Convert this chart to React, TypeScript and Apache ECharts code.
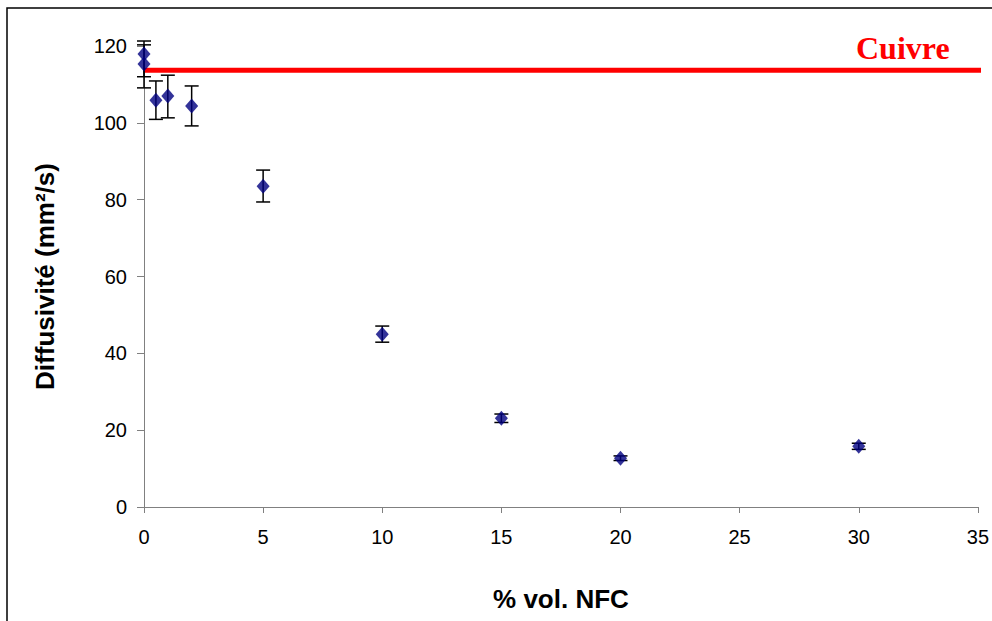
import React, { useEffect, useRef } from "react";
import * as echarts from "echarts";

const xValues = [0, 0, 0.5, 1, 2, 5, 10, 15, 20, 30];
const yValues = [117.9, 115.3, 105.9, 107.0, 104.4, 83.5, 45.0, 23.1, 12.7, 15.8];
const errPlus = [2.4, 6.0, 5.0, 5.4, 5.2, 4.2, 2.1, 1.1, 0.6, 0.8];
const errMinus = [5.9, 6.2, 5.0, 5.7, 5.2, 4.1, 2.1, 1.1, 0.6, 0.8];
const copperValue = 113.7;
const copperLabel = "Cuivre";
const xTicks = { min: 0, max: 35, interval: 5 };
const yTicks = { min: 0, max: 120, interval: 20 };

export default function App() {
  const ref = useRef<HTMLDivElement>(null);
  useEffect(() => {
    if (!ref.current) return;
    const chart = echarts.init(ref.current, null, { renderer: "svg" });
    const points = xValues.map((x, i) => [x, yValues[i]]);
    const errData = xValues.map((x, i) => [x, yValues[i] - errMinus[i], yValues[i] + errPlus[i]]);
    const font = "'Liberation Sans', Arial, sans-serif";
    chart.setOption({
      animation: false,
      grid: { left: 144, right: 12, top: 46, bottom: 114, containLabel: false },
      xAxis: {
        type: "value",
        min: xTicks.min,
        max: xTicks.max,
        interval: xTicks.interval,
        name: "% vol. NFC",
        nameLocation: "middle",
        nameGap: 79,
        nameTextStyle: { fontFamily: font, fontSize: 26, fontWeight: "bold", color: "#000" },
        axisLine: { lineStyle: { color: "#808080", width: 1 } },
        axisTick: { length: 6, lineStyle: { color: "#808080" } },
        axisLabel: { fontFamily: font, fontSize: 20, color: "#000", margin: 20 },
        splitLine: { show: false },
      },
      yAxis: {
        type: "value",
        min: yTicks.min,
        max: yTicks.max,
        interval: yTicks.interval,
        name: "Diffusivité (mm²/s)",
        nameLocation: "middle",
        nameGap: 86,
        nameTextStyle: { fontFamily: font, fontSize: 26, fontWeight: "bold", color: "#000" },
        axisLine: { show: true, lineStyle: { color: "#808080", width: 1 } },
        axisTick: { show: true, length: 7, lineStyle: { color: "#808080" } },
        axisLabel: { fontFamily: font, fontSize: 20, color: "#000", margin: 17 },
        splitLine: { show: false },
      },
      series: [
        {
          type: "line",
          data: [[xTicks.min, copperValue], [xTicks.max + 1, copperValue]],
          symbol: "none",
          clip: false,
          lineStyle: { color: "#ff0000", width: 5 },
          z: 3,
        },
        {
          type: "custom",
          data: errData,
          clip: false,
          z: 4,
          renderItem: (params: any, api: any) => {
            const x = api.value(0);
            const lo = api.coord([x, api.value(1)]);
            const hi = api.coord([x, api.value(2)]);
            const hw = 7;
            const st = { stroke: "#000", lineWidth: 1.5 };
            return {
              type: "group",
              children: [
                { type: "line", shape: { x1: lo[0], y1: lo[1], x2: hi[0], y2: hi[1] }, style: st },
                { type: "line", shape: { x1: lo[0] - hw, y1: lo[1], x2: lo[0] + hw, y2: lo[1] }, style: st },
                { type: "line", shape: { x1: hi[0] - hw, y1: hi[1], x2: hi[0] + hw, y2: hi[1] }, style: st },
              ],
            };
          },
        },
        {
          type: "scatter",
          data: points,
          symbol: "diamond",
          symbolSize: [13, 15],
          itemStyle: { color: "#000080" },
          z: 5,
        },
      ],
      graphic: [
        {
          type: "rect",
          shape: { x: 7, y: 8, width: 1100, height: 800 },
          style: { fill: "none", stroke: "#000", lineWidth: 1.5 },
          silent: true,
        },
        {
          type: "text",
          left: 856,
          top: 32,
          style: {
            text: copperLabel,
            fill: "#ff0000",
            font: "bold 32px 'Liberation Serif', 'Times New Roman', serif",
          },
        },
      ],
    });
    return () => chart.dispose();
  }, []);
  return <div ref={ref} style={{ position: "fixed", left: 0, top: 0, width: 992, height: 621, background: "#fff" }} />;
}
